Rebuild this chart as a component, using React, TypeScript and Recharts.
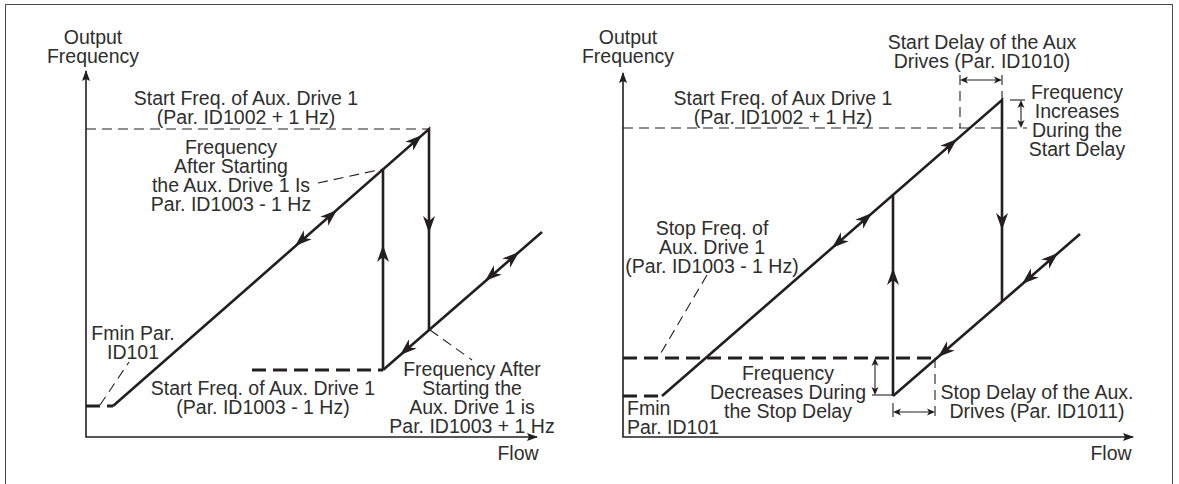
import React from 'react';
import { ComposedChart, Line, Scatter, XAxis, YAxis } from 'recharts';

type P = { x: number; y: number };
type Arrow = { x: number; y: number; dx: number; dy: number };
type Note = { x: number; y: number; lines: string[]; anchor?: 'start' | 'middle' | 'end' };

const INK = '#231f20';
const TEXT = '#2e2e2e';
const FONT = '"Liberation Sans", Arial, Helvetica, sans-serif';
const FS = 19.5;
const LH = 19;

// ---------- Left panel (flow / output frequency, units relative to origin) ----------
const leftAxes: P[][] = [[{ x: 0, y: 366 }, { x: 0, y: 0 }, { x: 451, y: 0 }]];
const leftAxisArrows: Arrow[] = [
  { x: 0, y: 367, dx: 0, dy: 1 },
  { x: 452, y: 0, dx: 1, dy: 0 },
];
const leftSolid: P[][] = [
  [{ x: 27, y: 31 }, { x: 343, y: 308 }, { x: 343, y: 107 }],
  [{ x: 297, y: 67 }, { x: 297, y: 268 }],
  [{ x: 297, y: 67 }, { x: 456, y: 205 }],
];
const leftThin: P[][] = [
  [{ x: 0, y: 308 }, { x: 343, y: 308 }],
  [{ x: 232, y: 254 }, { x: 297, y: 268 }],
  [{ x: 14, y: 32 }, { x: 43, y: 75 }],
  [{ x: 344, y: 107 }, { x: 386, y: 77 }],
];
const leftThick: P[][] = [
  [{ x: 0, y: 31 }, { x: 27, y: 31 }],
  [{ x: 166, y: 67 }, { x: 297, y: 67 }],
];
const leftArrows: Arrow[] = [
  { x: 336, y: 302, dx: 1, dy: 0.877 },
  { x: 251, y: 227, dx: 1, dy: 0.877 },
  { x: 209, y: 191, dx: -1, dy: -0.877 },
  { x: 297, y: 192, dx: 0, dy: 1 },
  { x: 343, y: 204, dx: 0, dy: -1 },
  { x: 314, y: 82, dx: -1, dy: -0.868 },
  { x: 433, y: 185, dx: 1, dy: 0.868 },
  { x: 399, y: 156, dx: -1, dy: -0.868 },
];
const leftNotes: Note[] = [
  { x: 7, y: 400, lines: ['Output', 'Frequency'] },
  { x: 160, y: 339, lines: ['Start Freq. of Aux. Drive 1', '(Par. ID1002 + 1 Hz)'] },
  { x: 145, y: 290, lines: ['Frequency', 'After Starting', 'the Aux. Drive 1 Is', 'Par. ID1003 - 1 Hz'] },
  { x: 47, y: 104, lines: ['Fmin Par.', 'ID101'] },
  { x: 177, y: 49, lines: ['Start Freq. of Aux. Drive 1', '(Par. ID1003 - 1 Hz)'] },
  { x: 386, y: 68, lines: ['Frequency After', 'Starting the', 'Aux. Drive 1 is', 'Par. ID1003 + 1 Hz'] },
  { x: 432, y: -16, lines: ['Flow'] },
];

// ---------- Right panel ----------
const rightAxes: P[][] = [[{ x: 0, y: 364 }, { x: 0, y: 0 }, { x: 510, y: 0 }]];
const rightAxisArrows: Arrow[] = [
  { x: 0, y: 365, dx: 0, dy: 1 },
  { x: 511, y: 0, dx: 1, dy: 0 },
];
const rightSolid: P[][] = [
  [{ x: 39, y: 41 }, { x: 379, y: 337 }, { x: 379, y: 136 }],
  [{ x: 270, y: 41 }, { x: 270, y: 243 }],
  [{ x: 270, y: 41 }, { x: 457, y: 203 }],
];
const rightThin: P[][] = [
  [{ x: 0, y: 309 }, { x: 404, y: 309 }],
  [{ x: 337, y: 362 }, { x: 337, y: 309 }],
  [{ x: 379, y: 362 }, { x: 379, y: 337 }],
  [{ x: 312, y: 79 }, { x: 312, y: 20 }],
  [{ x: 84, y: 162 }, { x: 35, y: 79 }],
];
const rightFine: P[][] = [
  [{ x: 339, y: 357 }, { x: 377, y: 357 }],
  [{ x: 398, y: 335 }, { x: 398, y: 311 }],
  [{ x: 387, y: 337 }, { x: 402, y: 337 }],
  [{ x: 270, y: 34 }, { x: 270, y: 20 }],
  [{ x: 272, y: 25 }, { x: 310, y: 25 }],
  [{ x: 252, y: 77 }, { x: 252, y: 44 }],
  [{ x: 249, y: 42 }, { x: 270, y: 42 }],
];
const rightThick: P[][] = [
  [{ x: 0, y: 41 }, { x: 39, y: 41 }],
  [{ x: 0, y: 79 }, { x: 314, y: 79 }],
];
const rightArrows: Arrow[] = [
  { x: 334, y: 298, dx: 1, dy: 0.8706 },
  { x: 249, y: 224, dx: 1, dy: 0.8706 },
  { x: 209, y: 189, dx: -1, dy: -0.8706 },
  { x: 270, y: 169, dx: 0, dy: 1 },
  { x: 379, y: 207, dx: 0, dy: -1 },
  { x: 315, y: 80, dx: -1, dy: -0.866 },
  { x: 435, y: 184, dx: 1, dy: 0.866 },
  { x: 399, y: 153, dx: -1, dy: -0.866 },
];
const rightSmallArrows: Arrow[] = [
  { x: 337, y: 357, dx: -1, dy: 0 },
  { x: 379, y: 357, dx: 1, dy: 0 },
  { x: 398, y: 337, dx: 0, dy: 1 },
  { x: 398, y: 309, dx: 0, dy: -1 },
  { x: 270, y: 25, dx: -1, dy: 0 },
  { x: 312, y: 25, dx: 1, dy: 0 },
  { x: 252, y: 79, dx: 0, dy: 1 },
  { x: 252, y: 42, dx: 0, dy: -1 },
];
const rightNotes: Note[] = [
  { x: 5, y: 400, lines: ['Output', 'Frequency'] },
  { x: 359, y: 395, lines: ['Start Delay of the Aux', 'Drives (Par. ID1010)'] },
  { x: 160, y: 339, lines: ['Start Freq. of Aux Drive 1', '(Par. ID1002 + 1 Hz)'] },
  { x: 454, y: 345, lines: ['Frequency', 'Increases', 'During the', 'Start Delay'] },
  { x: 89, y: 209, lines: ['Stop Freq. of', 'Aux. Drive 1', '(Par. ID1003 - 1 Hz)'] },
  { x: 165, y: 64, lines: ['Frequency', 'Decreases During', 'the Stop Delay'] },
  { x: 4, y: 29, lines: ['Fmin', 'Par. ID101'], anchor: 'start' },
  { x: 414, y: 45, lines: ['Stop Delay of the Aux.', 'Drives (Par. ID1011)'] },
  { x: 488, y: -16, lines: ['Flow'] },
];

const makeHead = (len: number, half: number, notch: number) => (props: any) => {
  const { cx, cy, payload } = props;
  if (cx == null || cy == null || !payload) return <g />;
  const ang = (Math.atan2(-payload.dy, payload.dx) * 180) / Math.PI;
  return (
    <polygon
      points={`0,0 ${-len},${-half} ${-len + notch},0 ${-len},${half}`}
      transform={`translate(${cx},${cy}) rotate(${ang})`}
      fill={INK}
      stroke="none"
    />
  );
};
const BigHead = makeHead(17, 6, 5);
const AxisHead = makeHead(11, 4, 2);
const SmallHead = makeHead(8, 3.5, 2);

const NoteShape = (props: any) => {
  const { cx, cy, payload } = props;
  if (cx == null || cy == null || !payload) return <g />;
  const anchor = payload.anchor || 'middle';
  return (
    <text x={cx} y={cy + FS * 0.35} textAnchor={anchor} fontFamily={FONT} fontSize={FS} fill={TEXT}>
      {payload.lines.map((l: string, i: number) => (
        <tspan key={i} x={cx} dy={i === 0 ? 0 : LH}>
          {l}
        </tspan>
      ))}
    </text>
  );
};

type PanelProps = {
  left: number;
  width: number;
  xDomain: [number, number];
  axes: P[][];
  axisArrows: Arrow[];
  solid: P[][];
  thin: P[][];
  thick: P[][];
  fine: P[][];
  arrows: Arrow[];
  smallArrows: Arrow[];
  notes: Note[];
};

function Panel(p: PanelProps) {
  return (
    <div style={{ position: 'absolute', left: p.left, top: 0 }}>
      <ComposedChart width={p.width} height={484} margin={{ top: 0, right: 0, bottom: 0, left: 0 }}>
        <XAxis type="number" dataKey="x" domain={p.xDomain} hide allowDataOverflow />
        <YAxis type="number" dataKey="y" domain={[-47, 437]} hide allowDataOverflow />
        {p.axes.map((s, i) => (
          <Line key={'a' + i} data={s} dataKey="y" stroke={INK} strokeWidth={1.6} dot={false} activeDot={false} isAnimationActive={false} />
        ))}
        {p.thin.map((s, i) => (
          <Line key={'t' + i} data={s} dataKey="y" stroke={INK} strokeWidth={1.1} strokeDasharray="10 6" dot={false} activeDot={false} isAnimationActive={false} />
        ))}
        {p.fine.map((s, i) => (
          <Line key={'f' + i} data={s} dataKey="y" stroke={INK} strokeWidth={1.1} dot={false} activeDot={false} isAnimationActive={false} />
        ))}
        {p.thick.map((s, i) => (
          <Line key={'k' + i} data={s} dataKey="y" stroke={INK} strokeWidth={3} strokeDasharray="14 7" dot={false} activeDot={false} isAnimationActive={false} />
        ))}
        {p.solid.map((s, i) => (
          <Line key={'s' + i} data={s} dataKey="y" stroke={INK} strokeWidth={2.6} dot={false} activeDot={false} isAnimationActive={false} />
        ))}
        {p.axisArrows.length > 0 && <Scatter data={p.axisArrows} shape={AxisHead} isAnimationActive={false} />}
        {p.arrows.length > 0 && <Scatter data={p.arrows} shape={BigHead} isAnimationActive={false} />}
        {p.smallArrows.length > 0 && <Scatter data={p.smallArrows} shape={SmallHead} isAnimationActive={false} />}
        {p.notes.length > 0 && <Scatter data={p.notes} shape={NoteShape} isAnimationActive={false} />}
      </ComposedChart>
    </div>
  );
}

export default function App() {
  return (
    <div style={{ position: 'absolute', left: 0, top: 0, width: 1179, height: 484, background: '#fff', overflow: 'hidden' }}>
      <div
        style={{
          position: 'absolute',
          left: 5,
          top: 4,
          width: 1168,
          height: 520,
          border: '1.5px solid #4a4a4a',
          boxSizing: 'border-box',
        }}
      />
      <Panel
        left={0}
        width={590}
        xDomain={[-86, 504]}
        axes={leftAxes}
        axisArrows={leftAxisArrows}
        solid={leftSolid}
        thin={leftThin}
        thick={leftThick}
        fine={[]}
        arrows={leftArrows}
        smallArrows={[]}
        notes={leftNotes}
      />
      <Panel
        left={560}
        width={619}
        xDomain={[-63, 556]}
        axes={rightAxes}
        axisArrows={rightAxisArrows}
        solid={rightSolid}
        thin={rightThin}
        thick={rightThick}
        fine={rightFine}
        arrows={rightArrows}
        smallArrows={rightSmallArrows}
        notes={rightNotes}
      />
    </div>
  );
}
